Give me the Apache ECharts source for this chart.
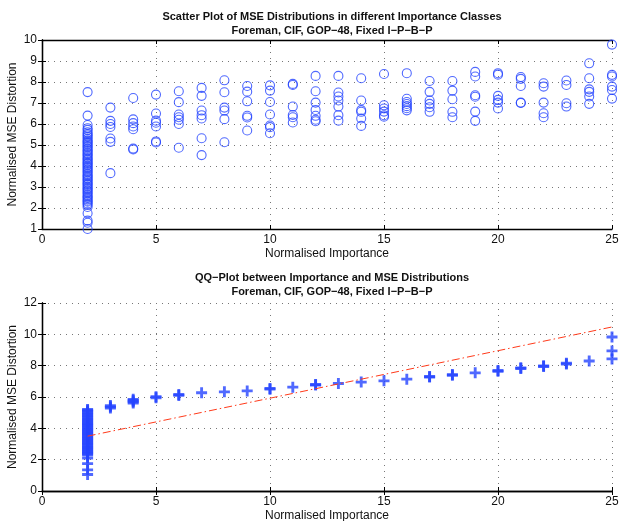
<!DOCTYPE html>
<html>
<head>
<meta charset="utf-8">
<script src="https://cdn.jsdelivr.net/npm/echarts@6/dist/echarts.min.js"></script>
<style>
  html, body { margin: 0; padding: 0; background: #fff; }
  #chart { width: 621px; height: 521px; }
</style>
</head>
<body>
<div id="chart"></div>
<script>
// Importance classes (x positions)
const importanceClasses = [2,3,4,5,6,7,8,9,10,11,12,13,14,15,16,17,18,19,20,21,22,23,24,25];

// MSE distortion samples per importance class (scatter plot)
const mseByClass = [
  [1.0,1.3,1.4,1.75,2.05,2.15,2.22,2.3,2.35,2.42,2.5,2.55,2.62,2.7,2.76,2.83,2.9,2.95,3.02,3.1,3.15,3.22,3.3,3.36,3.42,3.5,3.55,3.62,3.7,3.76,3.83,3.9,3.96,4.03,4.1,4.15,4.22,4.3,4.35,4.42,4.5,4.56,4.62,4.7,4.75,4.82,4.9,4.95,5.02,5.1,5.15,5.22,5.3,5.38,5.45,5.52,5.6,5.72,5.8,5.95,6.4,7.52],
  [6.78,6.15,6.0,5.86,5.31,5.15,3.66],
  [7.24,6.22,6.04,5.88,5.75,4.83,4.79],
  [7.4,6.5,6.16,6.06,5.88,5.17,5.12],
  [7.56,7.04,6.45,6.32,6.2,6.0,4.87],
  [7.72,7.34,6.64,6.42,6.26,5.32,4.52],
  [8.08,7.51,6.78,6.64,6.23,5.13],
  [7.81,7.54,7.08,6.39,6.31,5.69],
  [7.84,7.59,7.05,6.45,5.93,5.85,5.56],
  [7.91,7.86,6.83,6.43,6.32,6.07],
  [8.29,7.56,7.02,6.67,6.39,6.2,6.13],
  [8.29,7.5,7.31,7.12,6.83,6.42,6.16],
  [8.18,7.12,6.66,6.58,6.26,5.91],
  [8.38,6.89,6.74,6.59,6.42,6.35],
  [8.42,7.2,7.05,6.95,6.85,6.75,6.65],
  [8.05,7.53,7.12,6.96,6.8,6.58],
  [8.05,7.59,7.18,6.58,6.32],
  [8.48,8.26,7.37,7.3,6.59,6.15],
  [8.42,8.35,7.34,7.15,7.02,6.74],
  [8.24,8.15,7.81,7.02,7.0],
  [7.94,7.78,7.02,6.51,6.32],
  [8.07,7.86,6.99,6.83],
  [8.89,8.18,7.65,7.53,7.31,6.96],
  [9.78,8.34,8.26,7.78,7.62,7.21]
];

// Sorted MSE quantiles matched to importance quantiles (QQ plot)
const qqByClass = [
  [1.05,1.35,1.75,2.1,2.3,2.38,2.45,2.52,2.6,2.68,2.75,2.82,2.9,2.98,3.05,3.12,3.2,3.28,3.35,3.42,3.5,3.58,3.65,3.72,3.8,3.88,3.95,4.02,4.1,4.18,4.25,4.32,4.4,4.48,4.55,4.62,4.7,4.78,4.85,4.92,5.0,5.08,5.15,5.2],
  [5.3,5.37,5.45],
  [5.62,5.7,5.78,5.85],
  [5.95,6.02],
  [6.1,6.16],
  [6.27],
  [6.33],
  [6.39],
  [6.5,6.55],
  [6.63],
  [6.76,6.8],
  [6.86],
  [6.95],
  [7.03],
  [7.14],
  [7.27,7.31],
  [7.39,7.43],
  [7.54],
  [7.64,7.69],
  [7.82,7.86],
  [7.95,7.99],
  [8.1,8.16],
  [8.3],
  [8.43,8.94,9.83]
];

// Reference line endpoints for the QQ plot
const refLineX = [2, 25];
const refLineY = [3.5, 10.47];

const titleTop = 'Scatter Plot of MSE Distributions in different Importance Classes\nForeman, CIF, GOP\u221248, Fixed I\u2212P\u2212B\u2212P';
const titleBottom = 'QQ\u2212Plot between Importance and MSE Distributions\nForeman, CIF, GOP\u221248, Fixed I\u2212P\u2212B\u2212P';
const xName = 'Normalised Importance';
const yName = 'Normalised MSE Distortion';

function toPoints(groups) {
  const pts = [];
  groups.forEach((vals, i) => vals.forEach(v => pts.push([importanceClasses[i], v])));
  return pts;
}

const FONT = 'Liberation Sans, Arial, Helvetica, sans-serif';
const BLUE = '#2444ff';

function mainX(gi, name) {
  return {
    gridIndex: gi, type: 'value', min: 0, max: 25, interval: 5,
    name: name, nameLocation: 'middle', nameGap: 19, nameMoveOverlap: false,
    nameTextStyle: { fontFamily: FONT, fontSize: 12, color: '#111' },
    axisLine: { lineStyle: { color: '#000', width: 1.3 } },
    axisTick: { inside: true, length: 4, lineStyle: { color: '#000' } },
    axisLabel: { fontFamily: FONT, fontSize: 12, color: '#111', margin: 5 },
    splitLine: { show: true, lineStyle: { color: '#777', type: [1, 5], width: 1 } }
  };
}
function mirrorX(gi) {
  return {
    gridIndex: gi, type: 'value', min: 0, max: 25, interval: 5, position: 'top',
    axisLine: { lineStyle: { color: '#000', width: 1.3 } },
    axisTick: { inside: true, length: 4, lineStyle: { color: '#000' } },
    axisLabel: { show: false }, splitLine: { show: false }
  };
}
function mainY(gi, min, max, interval) {
  return {
    gridIndex: gi, type: 'value', min: min, max: max, interval: interval,
    name: yName, nameLocation: 'middle', nameGap: 23, nameRotate: 90, nameMoveOverlap: false,
    nameTextStyle: { fontFamily: FONT, fontSize: 12, color: '#111' },
    axisLine: { lineStyle: { color: '#000', width: 1.3 } },
    axisTick: { inside: true, length: 4, lineStyle: { color: '#000' } },
    axisLabel: { fontFamily: FONT, fontSize: 12, color: '#111', margin: 5 },
    splitLine: { show: true, lineStyle: { color: '#777', type: [1, 5], width: 1 } }
  };
}
function mirrorY(gi, min, max, interval) {
  return {
    gridIndex: gi, type: 'value', min: min, max: max, interval: interval, position: 'right',
    axisLine: { lineStyle: { color: '#000', width: 1.3 } },
    axisTick: { inside: true, length: 4, lineStyle: { color: '#000' } },
    axisLabel: { show: false }, splitLine: { show: false }
  };
}

const chart = echarts.init(document.getElementById('chart'), null, { renderer: 'canvas' });
chart.setOption({
  animation: false,
  backgroundColor: '#fff',
  title: [
    { text: titleTop, left: 327, top: 5, textAlign: 'center',
      textStyle: { fontFamily: FONT, fontSize: 11, fontWeight: 'bold', color: '#111', lineHeight: 14 } },
    { text: titleBottom, left: 327, top: 266, textAlign: 'center',
      textStyle: { fontFamily: FONT, fontSize: 11, fontWeight: 'bold', color: '#111', lineHeight: 14 } }
  ],
  grid: [
    { left: 42, right: 9, top: 40, height: 189, containLabel: false, outerBoundsMode: 'none' },
    { left: 42, right: 9, top: 303, height: 188, containLabel: false, outerBoundsMode: 'none' }
  ],
  xAxis: [mainX(0, xName), mainX(1, xName), mirrorX(0), mirrorX(1)],
  yAxis: [mainY(0, 1, 10, 1), mainY(1, 0, 12, 2), mirrorY(0, 1, 10, 1), mirrorY(1, 0, 12, 2)],
  series: [
    {
      type: 'scatter', xAxisIndex: 0, yAxisIndex: 0, clip: false,
      symbol: 'circle', symbolSize: 9,
      itemStyle: { color: 'rgba(0,0,0,0)', borderColor: BLUE, borderWidth: 1.1 },
      data: toPoints(mseByClass)
    },
    {
      type: 'line', xAxisIndex: 1, yAxisIndex: 1, symbol: 'none',
      lineStyle: { color: '#ff3a1a', width: 1, type: [8, 3, 1.5, 3] },
      data: refLineX.map((x, i) => [x, refLineY[i]])
    },
    {
      type: 'scatter', xAxisIndex: 1, yAxisIndex: 1, clip: false,
      symbol: 'path://M3.7,0H6.3V3.7H10V6.3H6.3V10H3.7V6.3H0V3.7H3.7Z', symbolSize: 11,
      itemStyle: { color: BLUE },
      data: toPoints(qqByClass)
    }
  ]
});
</script>
</body>
</html>
